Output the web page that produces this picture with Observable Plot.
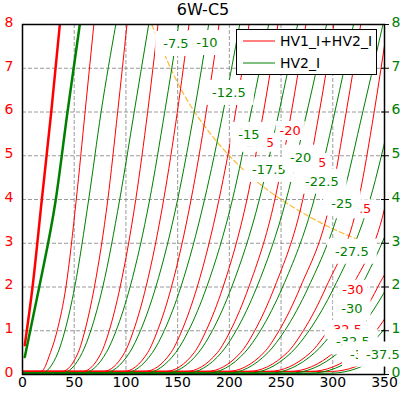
<!DOCTYPE html>
<html><head><meta charset="utf-8">
<script src="https://cdn.jsdelivr.net/npm/d3@7"></script>
<script src="https://cdn.jsdelivr.net/npm/@observablehq/plot@0.6"></script>
<style>
body{margin:0;background:#fff;font-family:"DejaVu Sans",sans-serif;}
#wrap{position:relative;width:410px;height:397px;overflow:hidden;}
#title{position:absolute;left:0;top:0;width:410px;height:20px;line-height:20px;font-size:16px;text-align:center;padding-left:22px;padding-right:26px;box-sizing:border-box;color:#000;}
#legend{position:absolute;left:236px;top:29px;width:141px;height:46px;border:1px solid #000;background:#fff;box-sizing:border-box;}
#legend svg{display:block;font-family:"DejaVu Sans",sans-serif;}
#chart svg{display:block;}
</style></head><body>
<div id="wrap">
<div id="chart"></div>
<div id="title">6W-C5</div>
<div id="legend"><svg width="139" height="44">
<line x1="6" x2="38" y1="11" y2="11" stroke="#ff0000" stroke-width="1"/>
<text x="43" y="11" dy="0.35em" font-size="14" fill="#000">HV1_I+HV2_I</text>
<line x1="6" x2="38" y1="33" y2="33" stroke="#008000" stroke-width="1"/>
<text x="43" y="33" dy="0.35em" font-size="14" fill="#000">HV2_I</text>
</svg></div>
</div>
<script>
// grid voltages of the curve families
const gridVoltages = [0, -2.5, -5, -7.5, -10, -12.5, -15, -17.5, -20, -22.5, -25, -27.5, -30, -32.5, -35, -37.5];
// current levels (mA) at which voltages were read for curves -2.5 .. -37.5
const currentLevels = [0.5, 1, 2, 4, 6, 8];
// voltage where each curve leaves the near-zero baseline (-2.5 .. -37.5)
const startVoltage = [18, 38, 58, 78, 98, 118, 138, 158, 178, 198, 218, 238, 258, 278, 298];
// HV1_I+HV2_I: voltage at each current level
const totalVoltage = [
  [27, 33.5, 42, 52, 60.5, 69],
  [53.8, 60.3, 69.5, 82.5, 92, 101],
  [76.2, 83.8, 94.4, 109.5, 121, 131],
  [98.7, 107.3, 119.4, 136.5, 149.7, 161],
  [121, 130.5, 144, 163, 177.6, 190],
  [143.5, 154, 168.9, 190, 206, 219],
  [166, 177.5, 193.9, 217, 233, 247],
  [188.4, 201, 218.8, 244, 260, 274],
  [210.9, 224.5, 243.8, 271, 287, 301],
  [233.4, 248, 268.7, 298, 313, 327],
  [255.9, 271.5, 293.6, 325, 340, 353],
  [278.4, 295, 318.6, 352, 367, 380],
  [300.8, 318.5, 343.5, 379, 395, 408],
  [323.3, 342, 368.5, 406, 422, 436],
  [345.8, 365.5, 393.4, 433, 450, 465]
];
// HV2_I: voltage at each current level
const hv2Voltage = [
  [34.3, 41, 50.5, 64, 76, 90.2],
  [57.8, 66, 77.6, 94, 108, 122],
  [81, 90.5, 104, 123, 137.5, 151],
  [103.5, 114, 128.9, 150, 166, 180],
  [125.6, 137, 153.1, 176, 194, 210],
  [148.1, 160.5, 178.1, 203, 221, 238],
  [170.2, 183.5, 202.3, 229, 248, 266],
  [192.3, 206.5, 226.6, 255, 275, 294],
  [214.8, 230, 251.5, 282, 302, 320],
  [237.3, 253.5, 276.5, 309, 329, 348.5],
  [259.8, 277, 301.4, 336, 357, 376],
  [282.6, 301, 327.1, 364, 390, 412],
  [305.4, 325, 352.7, 392, 420, 447],
  [327.9, 348.5, 377.7, 419, 450, 477],
  [350.4, 372, 402.6, 446, 479, 507]
];
// Vg = 0 curves (bold)
const boldTotalV = [2.2, 9.7, 18.7, 27.8, 36.1];
const boldTotalI = [0.67, 2, 4, 6, 8];
const boldHv2V = [2.2, 16.2, 32.2, 43.5, 55.4];
const boldHv2I = [0.40, 2, 4, 6, 8];
// near-zero leakage baseline currents
const leakTotal = 0.07;
const leakHv2 = 0.03;
// dissipation limit (dashed orange)
const limitV = [125, 150, 175, 200, 225, 250, 275, 300, 325];
const limitI = [8.0, 6.67, 5.71, 5.0, 4.44, 4.0, 3.64, 3.33, 3.08];
// inline labels
const hv2LabelVg = ["-7.5", "-10", "-12.5", "-15", "-17.5", "-20", "-22.5", "-25", "-27.5", "-30", "-32.5", "-35", "-37.5"];
const hv2LabelV = [148.3, 178.2, 199.5, 218.9, 238.2, 269, 289.4, 308.8, 318.5, 318.5, 319.4, 327, 348.4];
const hv2LabelI = [7.56, 7.58, 6.44, 5.48, 4.68, 4.96, 4.41, 3.91, 2.81, 1.51, 0.74, 0.46, 0.46];
const totalLabelVg = ["-17.5", "-20", "-22.5", "-27.5", "-30", "-32.5"];
const totalLabelV = [227, 258.8, 277.5, 321, 319.4, 312];
const totalLabelI = [5.3, 5.57, 4.84, 3.78, 1.94, 1.02];
// axes
const xTicks = [0, 50, 100, 150, 200, 250, 300, 350];
const yTicks = [0, 1, 2, 3, 4, 5, 6, 7, 8];
const gridXTicks = [50, 100, 150, 200, 250, 300];
const gridYTicks = [1, 2, 3, 4, 5, 6, 7];

const RED = "#ff0000", GREEN = "#008000";

const rows = [];
function addCurve(family, vg, vs, is) { vs.forEach((v, j) => rows.push({family, vg, v, i: is[j]})); }
addCurve("total", 0, boldTotalV, boldTotalI);
addCurve("hv2", 0, boldHv2V, boldHv2I);
startVoltage.forEach((v0, j) => {
  const vg = gridVoltages[j + 1];
  addCurve("total", vg, [0, v0, ...totalVoltage[j]], [leakTotal, leakTotal, ...currentLevels]);
  addCurve("hv2", vg, [0, v0, ...hv2Voltage[j]], [leakHv2, leakHv2, ...currentLevels]);
});
const limit = limitV.map((v, j) => ({v, i: limitI[j]}));
const hv2Labels = hv2LabelVg.map((t, j) => ({t, v: hv2LabelV[j], i: hv2LabelI[j]}));
const totalLabels = totalLabelVg.map((t, j) => ({t, v: totalLabelV[j], i: totalLabelI[j]}));

const sel = (fam, bold) => rows.filter(d => d.family === fam && (d.vg === 0) === bold);

const chart = Plot.plot({
  width: 410, height: 397,
  marginTop: 24, marginBottom: 23, marginLeft: 22, marginRight: 26,
  style: {fontFamily: "DejaVu Sans, sans-serif", fontSize: "14px", background: "white"},
  x: {domain: [0, 350], label: null},
  y: {domain: [0, 8], label: null},
  marks: [
    Plot.gridX(gridXTicks, {stroke: "#808080", strokeOpacity: 1, strokeDasharray: "4,2", strokeWidth: 0.8}),
    Plot.gridY(gridYTicks, {stroke: "#808080", strokeOpacity: 1, strokeDasharray: "4,2", strokeWidth: 0.8}),
    Plot.line(limit, {x: "v", y: "i", stroke: "orange", strokeOpacity: 0.8, strokeDasharray: "5,3", strokeWidth: 1.2, curve: "natural", clip: true}),
    Plot.line(sel("total", false), {x: "v", y: "i", z: "vg", stroke: RED, strokeWidth: 1, curve: "monotone-x", clip: true}),
    Plot.line(sel("hv2", false), {x: "v", y: "i", z: "vg", stroke: GREEN, strokeWidth: 1, curve: "monotone-x", clip: true}),
    Plot.line(sel("total", true), {x: "v", y: "i", stroke: RED, strokeWidth: 2.5, curve: "monotone-x", clip: true}),
    Plot.line(sel("hv2", true), {x: "v", y: "i", stroke: GREEN, strokeWidth: 2.5, curve: "monotone-x", clip: true}),
    Plot.frame({stroke: "black", strokeWidth: 1.5}),
    Plot.axisX(xTicks, {tickSize: 0, tickPadding: 3, color: "black", fontSize: 14, label: null}),
    Plot.axisY(yTicks, {anchor: "left", tickSize: 0, tickPadding: 9, dy: -2, color: RED, fontSize: 14, label: null}),
    Plot.axisY(yTicks, {anchor: "right", tickSize: 0, tickPadding: 7, dy: -2, color: GREEN, fontSize: 14, label: null}),
    Plot.axisY(yTicks, {anchor: "right", tickSize: 8, dx: -4, tickFormat: () => "", stroke: "black", label: null}),
    Plot.text(totalLabels, {x: "v", y: "i", text: "t", fill: RED, fontSize: 13, ariaDescription: "total-labels"}),
    Plot.text(hv2Labels, {x: "v", y: "i", text: "t", fill: GREEN, fontSize: 13, ariaDescription: "hv2-labels"})
  ]
});
document.getElementById("chart").appendChild(chart);

function boxLabels(svg, desc, px, py) {
  svg.querySelectorAll(`g[aria-description="${desc}"] text`).forEach(t => {
    const b = t.getBBox();
    const r = document.createElementNS("http://www.w3.org/2000/svg", "rect");
    r.setAttribute("x", b.x - px); r.setAttribute("y", b.y - py);
    r.setAttribute("width", b.width + 2 * px); r.setAttribute("height", b.height + 2 * py);
    r.setAttribute("fill", "white");
    const tr = t.getAttribute("transform");
    if (tr) r.setAttribute("transform", tr);
    t.parentNode.insertBefore(r, t);
  });
}
boxLabels(chart, "total-labels", 4, 2);
boxLabels(chart, "hv2-labels", 8, 5);
</script>
</body></html>
